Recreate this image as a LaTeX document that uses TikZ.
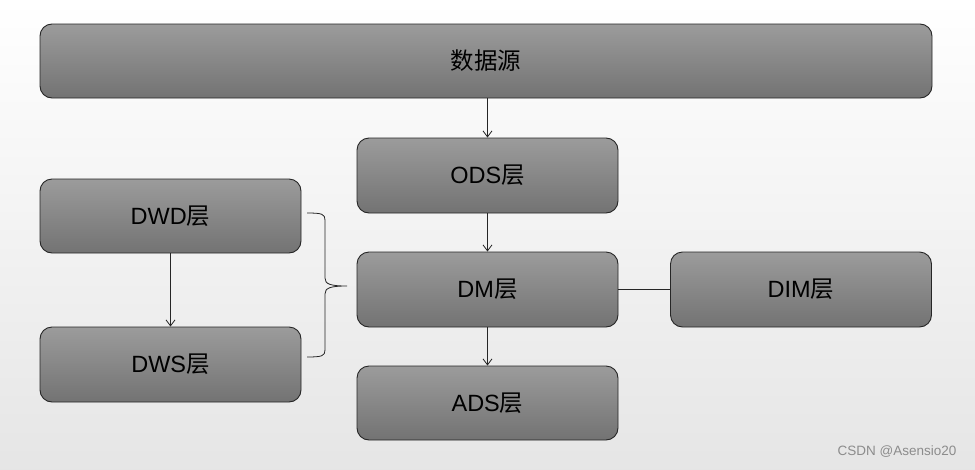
\documentclass[tikz,border=0pt]{standalone}
\usepackage{fontspec}
\setmainfont{Liberation Sans}
\newfontfamily\cjk{Noto Sans CJK SC}
\usetikzlibrary{arrows.meta,calc}
\newcommand{\zh}[1]{{\cjk #1}}
\begin{document}
\begin{tikzpicture}[x=1pt,y=-1pt,
  layerbox/.style={draw=black!85, line width=0.9pt, rounded corners=12pt,
    top color=black!39, bottom color=black!55, minimum width=261pt,
    minimum height=74pt, inner sep=0pt, font=\fontsize{23.5}{27}\selectfont, text=black},
  flow/.style={draw=black!85, line width=0.8pt, -{Straight Barb[length=6pt,width=9pt,line width=0.8pt]}},
  plain/.style={draw=black!85, line width=0.9pt}
]
\shade[top color=white, bottom color=black!10] (0,0) rectangle (975,469);
\useasboundingbox (0,0) rectangle (975,469);

\node[layerbox, minimum width=892pt] (src) at (486,61) {\zh{数据源}};
\node[layerbox, minimum height=75pt] (ods) at (487.5,175.5) {ODS\zh{层}};
\node[layerbox] (dwd) at (170.5,216) {DWD\zh{层}};
\node[layerbox, minimum height=75pt] (dm) at (487.5,289.5) {DM\zh{层}};
\node[layerbox, minimum height=75pt] (dim) at (801,289.5) {DIM\zh{层}};
\node[layerbox, minimum height=75pt] (dws) at (170.5,364.5) {DWS\zh{层}};
\node[layerbox] (ads) at (487.5,403) {ADS\zh{层}};

\draw[flow] (src.south -| ods.north) -- (ods.north);
\draw[flow] (ods.south) -- (dm.north);
\draw[flow] (dm.south) -- (ads.north);
\draw[flow] (dwd.south) -- (dws.north);
\draw[plain] (dm.east) -- (dim.west);

% brace
\coordinate (btop) at (307,213);
\coordinate (bbot) at (307,357);
\coordinate (btip) at (347,286);
\draw[plain, line width=0.8pt]
  (btop) .. controls (322,213) and (325,214) .. (325,220)
  -- (325,278) .. controls (325,284) and (330,286) .. (btip)
  .. controls (330,286) and (325,288) .. (325,294)
  -- (325,350) .. controls (325,356) and (322,357) .. (bbot);

\node[text=black!45, font=\fontsize{13.5}{16}\selectfont, anchor=east] (wm) at (960,452) {CSDN @Asensio20};
\end{tikzpicture}
\end{document}
